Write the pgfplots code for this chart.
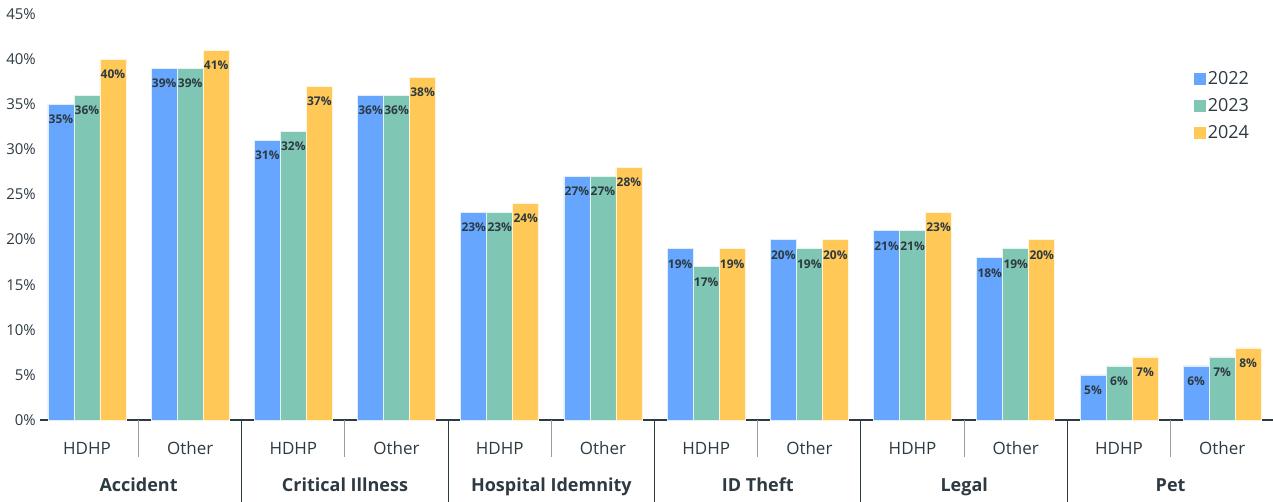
\documentclass[border=0pt]{standalone}
\usepackage{pgfplots}
\pgfplotsset{compat=1.18}
\usepackage{fontspec}
\setmainfont{Open Sans}
\definecolor{cblue}{RGB}{102,166,255}
\definecolor{cgreen}{RGB}{127,198,180}
\definecolor{cyellow}{RGB}{255,200,87}
\definecolor{ctext}{RGB}{45,58,66}
\definecolor{csep}{RGB}{150,156,160}
\begin{document}
\begin{tikzpicture}
\path[use as bounding box] (-40pt,-82pt) rectangle (1233pt,420pt);
\begin{axis}[
  at={(0pt,0pt)}, anchor=south west,
  scale only axis,
  width=1233.8pt, height=406pt,
  xmin=-0.455, xmax=11.5,
  ymin=0, ymax=45,
  ybar=0pt, bar width=26pt,
  axis x line*=bottom,
  axis y line=none,
  x axis line style={ctext, line width=1.2pt, -},
  xtick={0,...,11},
  xticklabels={HDHP,Other,HDHP,Other,HDHP,Other,HDHP,Other,HDHP,Other,HDHP,Other},
  x tick label style={font=\fontsize{17}{19}\selectfont, text=ctext, anchor=base, inner sep=0pt, yshift=-35pt},
  major tick length=0pt,
  ytick={0,5,...,45},
  clip=false,
  /pgf/number format/assume math mode=true,
  nodes near coords={\pgfmathprintnumber{\pgfplotspointmeta}\%},
  every node near coord/.append style={font=\bfseries\fontsize{12}{13}\selectfont, text=ctext, anchor=north, inner sep=0pt, yshift=-10.5pt},
  legend style={draw=none, fill=none, at={(0.935,0.864)}, anchor=north west, font=\fontsize{18}{20}\selectfont, text=ctext, row sep=8.5pt, inner sep=0pt},
  legend cell align=left,
  legend image code/.code={\fill[#1, draw=none] (-3pt,-6pt) rectangle (9pt,6pt);},
]
\addplot[fill=cblue, draw=white!80!cblue, line width=0.6pt] coordinates {(0,35) (1,39) (2,31) (3,36) (4,23) (5,27) (6,19) (7,20) (8,21) (9,18) (10,5) (11,6)};
\addplot[fill=cgreen, draw=white!80!cgreen, line width=0.6pt] coordinates {(0,36) (1,39) (2,32) (3,36) (4,23) (5,27) (6,17) (7,19) (8,21) (9,19) (10,6) (11,7)};
\addplot[fill=cyellow, draw=white!80!cyellow, line width=0.6pt] coordinates {(0,40) (1,41) (2,37) (3,38) (4,24) (5,28) (6,19) (7,20) (8,23) (9,20) (10,7) (11,8)};
\legend{2022,2023,2024}
\pgfplotsinvokeforeach{0,5,10,15,20,25,30,35,40,45}{
  \node[anchor=east, inner sep=0pt, font=\fontsize{15}{17}\selectfont, text=ctext] at (axis cs:-0.455,#1) [xshift=-4pt] {#1\%};
}
\pgfplotsinvokeforeach{0.5,2.5,4.5,6.5,8.5,10.5}{
  \draw[csep, line width=1pt] (axis cs:#1,0) -- ++(0pt,-37pt);
}
\pgfplotsinvokeforeach{1.5,3.5,5.5,7.5,9.5}{
  \draw[ctext, line width=1pt] (axis cs:#1,0) -- ++(0pt,-82pt);
}
\node[anchor=base, font=\bfseries\fontsize{18}{20}\selectfont, text=ctext] at (axis cs:0.5,0) [yshift=-72pt] {Accident};
\node[anchor=base, font=\bfseries\fontsize{18}{20}\selectfont, text=ctext] at (axis cs:2.5,0) [yshift=-72pt] {Critical Illness};
\node[anchor=base, font=\bfseries\fontsize{18}{20}\selectfont, text=ctext] at (axis cs:4.5,0) [yshift=-72pt] {Hospital Idemnity};
\node[anchor=base, font=\bfseries\fontsize{18}{20}\selectfont, text=ctext] at (axis cs:6.5,0) [yshift=-72pt] {ID Theft};
\node[anchor=base, font=\bfseries\fontsize{18}{20}\selectfont, text=ctext] at (axis cs:8.5,0) [yshift=-72pt] {Legal};
\node[anchor=base, font=\bfseries\fontsize{18}{20}\selectfont, text=ctext] at (axis cs:10.5,0) [yshift=-72pt] {Pet};
\end{axis}
\end{tikzpicture}
\end{document}
